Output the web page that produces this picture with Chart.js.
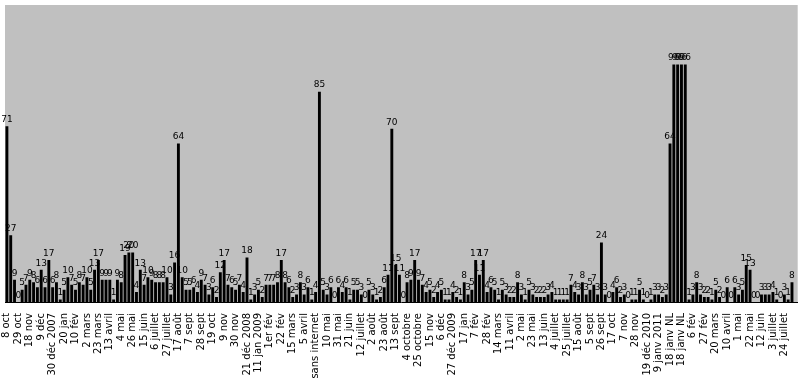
<!DOCTYPE html>
<html>
<head>
<meta charset="utf-8">
<script src="https://cdn.jsdelivr.net/npm/chart.js@4.4.0/dist/chart.umd.min.js"></script>
<style>
  body { margin: 0; background: #ffffff; }
  #wrap { width: 807px; height: 385px; }
</style>
</head>
<body>
<div id="wrap"><canvas id="chart" width="807" height="385"></canvas></div>
<script>
// one label every 3 weeks on the category axis
const tickLabels = ["8 oct", "29 oct", "18 nov", "9 déc", "30 déc 2007", "20 jan", "10 fév", "2 mars", "23 mars", "13 avril",
  "4 mai", "26 mai", "15 juin", "6 juillet", "27 juillet", "17 août", "7 sept", "28 sept", "19 oct", "9 nov",
  "30 nov", "21 déc 2008", "11 jan 2009", "1er fév", "22 fév", "15 mars", "5 avril", "sans internet", "10 mai", "31 mai",
  "21 juin", "12 juillet", "2 août", "23 août", "13 sept", "4 octobre", "25 octobre", "15 nov", "6 déc", "27 déc 2009",
  "17 jan", "7 fév", "28 fév", "14 mars", "11 avril", "2 mai", "23 mai", "13 juin", "4 juillet", "25 juillet",
  "15 août", "5 sept", "26 sept", "17 oct", "7 nov", "28 nov", "19 déc 2010", "9 janv 2011", "18 janv NL", "18 janv NL",
  "6 fév", "27 fév", "20 mars", "10 avril", "1 mai", "22 mai", "12 juin", "3 juillet", "24 juillet"];

// weekly counts
const values = [
  71, 27, 9, 0, 5, 7, 9, 8, 6, 13,
  6, 17, 6, 8, 1, 5, 10, 7, 5, 8,
  7, 10, 5, 13, 17, 9, 9, 9, 1, 9,
  8, 19, 20, 20, 4, 13, 7, 10, 9, 8,
  8, 8, 10, 3, 16, 64, 10, 5, 5, 6,
  4, 9, 7, 3, 6, 2, 12, 17, 7, 6,
  5, 7, 4, 18, 1, 3, 5, 2, 7, 7,
  7, 8, 17, 8, 6, 2, 3, 8, 3, 6,
  1, 4, 85, 5, 3, 6, 0, 6, 4, 6,
  1, 5, 5, 3, 0, 5, 3, 1, 2, 6,
  11, 70, 15, 11, 0, 8, 9, 17, 9, 7,
  4, 5, 2, 4, 5, 1, 1, 4, 2, 1,
  8, 3, 5, 17, 11, 17, 4, 6, 5, 1,
  5, 3, 2, 2, 8, 3, 1, 5, 3, 2,
  2, 2, 3, 4, 1, 1, 1, 1, 7, 4,
  3, 8, 3, 5, 7, 3, 24, 3, 0, 4,
  6, 2, 3, 0, 1, 1, 5, 1, 0, 1,
  3, 3, 2, 3, 64, 96, 96, 96, 96, 1,
  3, 8, 3, 2, 2, 1, 5, 2, 0, 6,
  0, 6, 3, 5, 15, 13, 0, 0, 3, 3,
  3, 4, 1, 0, 3, 1, 8, 2
];

const categories = values.map((v, i) => (i % 3 === 0 ? tickLabels[i / 3] : ""));

// grey plot area like the old Excel charts
const plotBackground = {
  id: "plotBackground",
  beforeDraw(chart) {
    const { ctx, chartArea } = chart;
    ctx.save();
    ctx.fillStyle = "#c0c0c0";
    ctx.fillRect(chartArea.left, chartArea.top, chartArea.right - chartArea.left, chartArea.bottom - chartArea.top);
    ctx.restore();
  }
};

// value above every bar
const valueLabels = {
  id: "valueLabels",
  afterDatasetsDraw(chart) {
    const { ctx } = chart;
    const meta = chart.getDatasetMeta(0);
    ctx.save();
    ctx.font = "9px 'DejaVu Sans'";
    ctx.fillStyle = "#000000";
    ctx.textAlign = "center";
    ctx.textBaseline = "bottom";
    meta.data.forEach((bar, i) => {
      ctx.fillText(String(values[i]), bar.x, bar.y - 2);
    });
    ctx.restore();
  }
};

const ctx = document.getElementById("chart").getContext("2d");
new Chart(ctx, {
  type: "bar",
  data: {
    labels: categories,
    datasets: [{
      data: values,
      backgroundColor: "#000000",
      borderWidth: 0,
      barPercentage: 0.76,
      categoryPercentage: 1.0
    }]
  },
  options: {
    responsive: false,
    animation: false,
    layout: { padding: { left: 5, right: 3, top: 5, bottom: 0 } },
    plugins: {
      legend: { display: false },
      tooltip: { enabled: false }
    },
    scales: {
      x: {
        grid: { display: false },
        border: { display: true, color: "#000000", width: 1 },
        ticks: {
          autoSkip: false,
          maxRotation: 90,
          minRotation: 90,
          padding: 3,
          color: "#000000",
          font: { family: "DejaVu Sans", size: 10 }
        },
        afterFit(scale) { scale.height = 83; }
      },
      y: {
        display: false,
        min: 0,
        max: 120
      }
    }
  },
  plugins: [plotBackground, valueLabels]
});
</script>
</body>
</html>
